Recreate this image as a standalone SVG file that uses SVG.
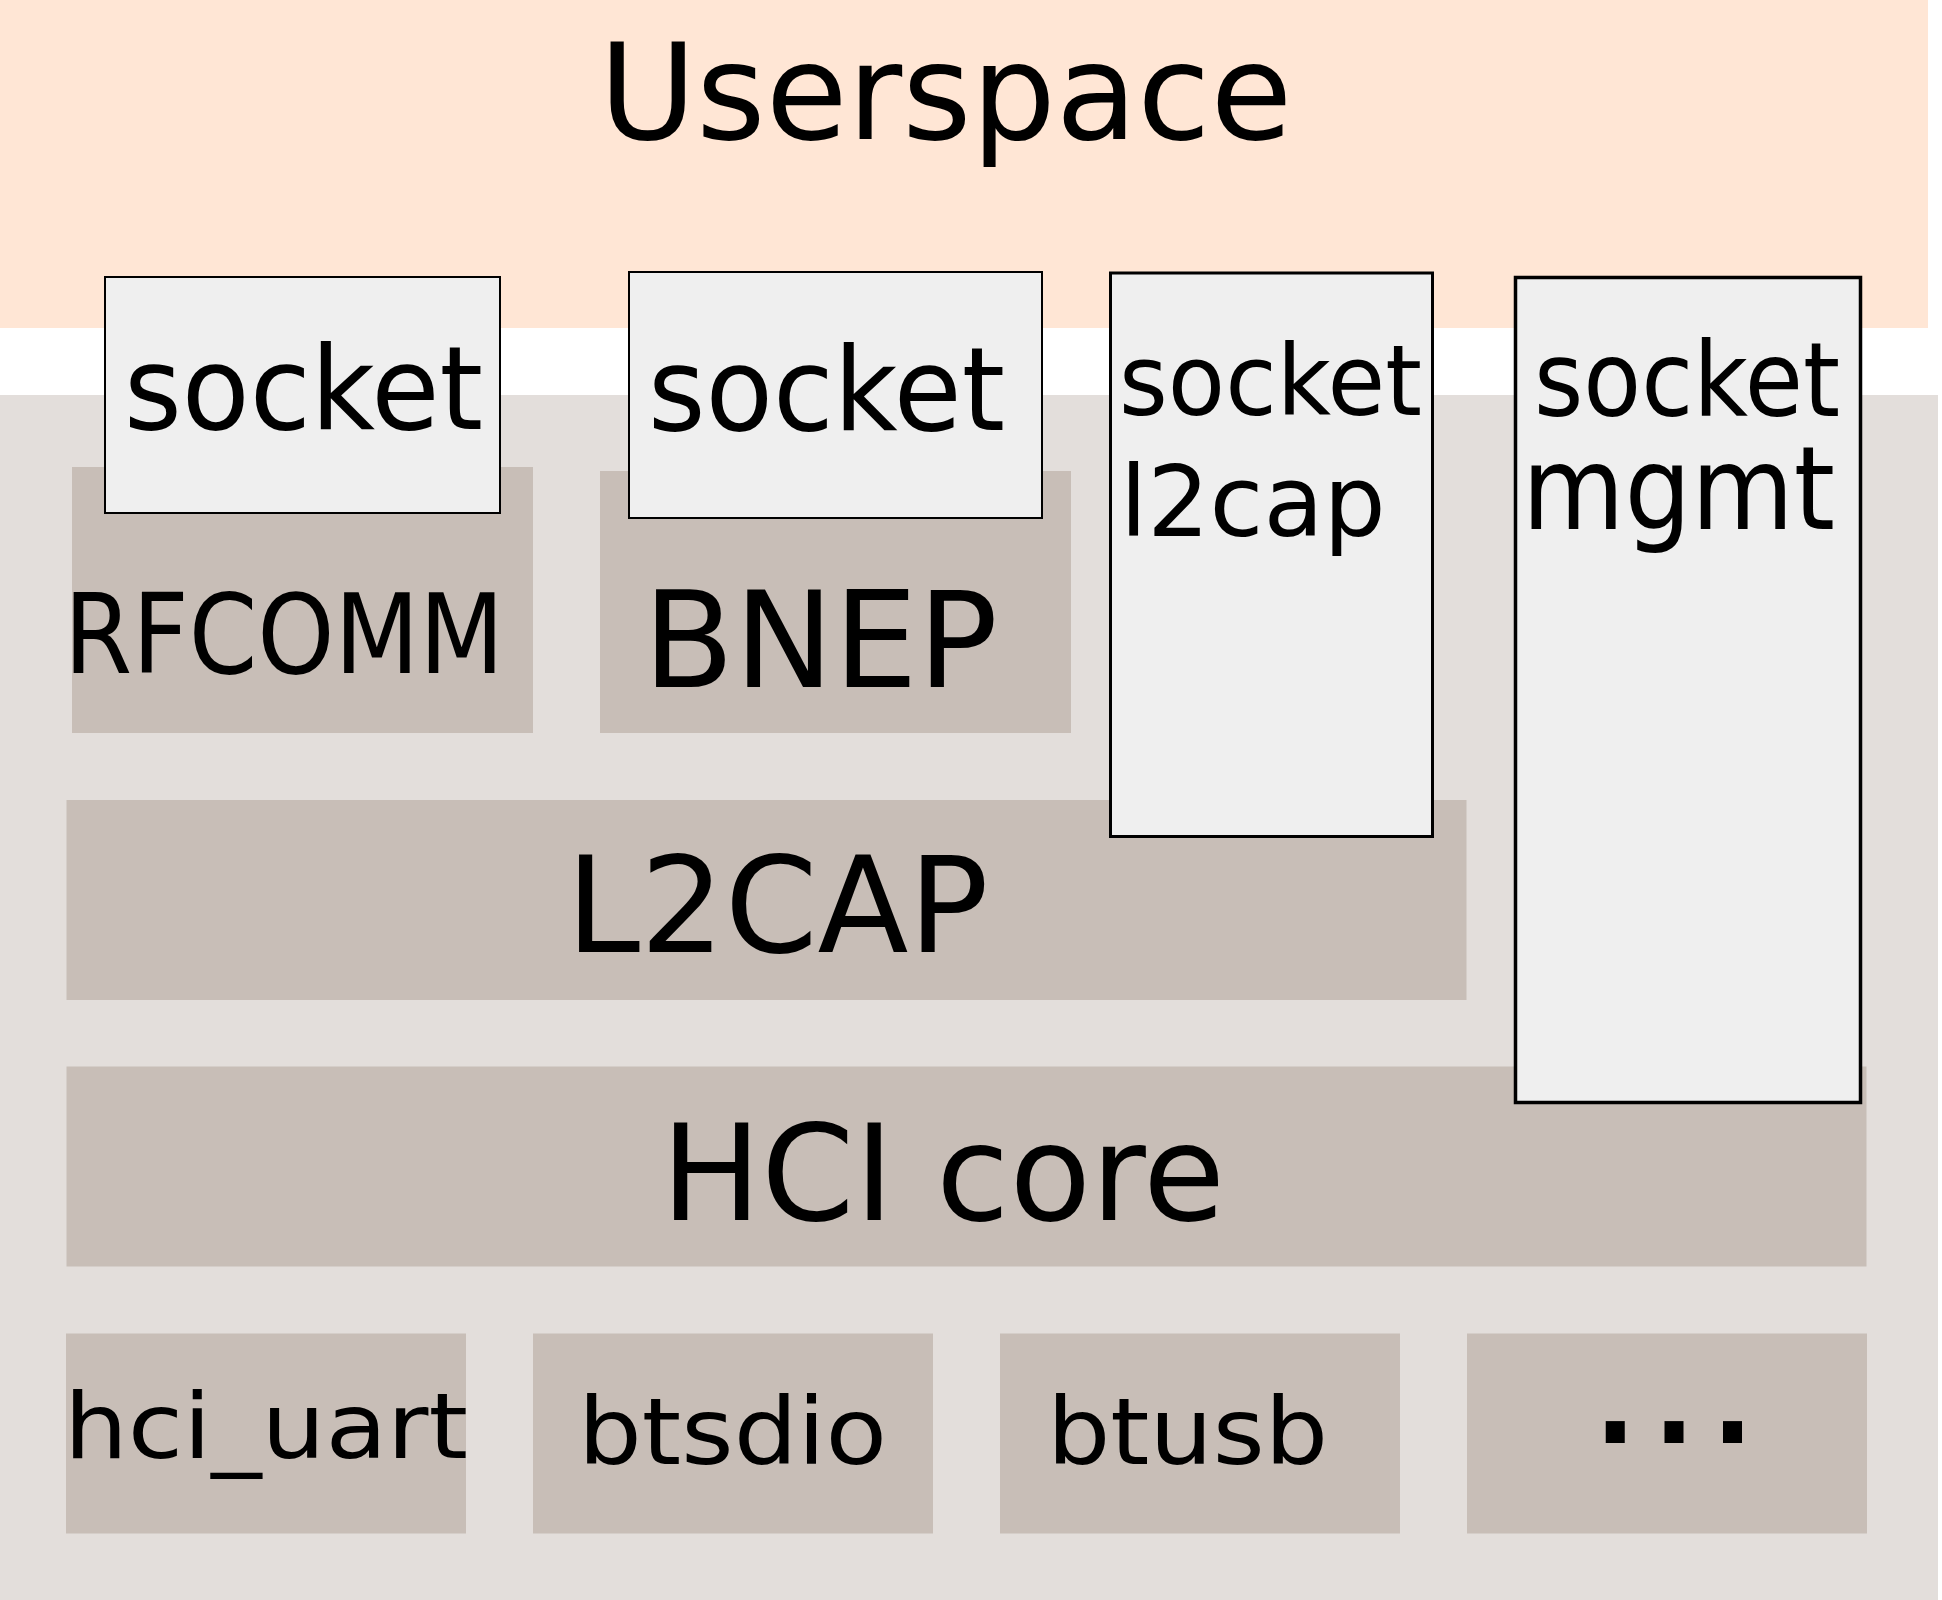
<svg xmlns="http://www.w3.org/2000/svg" width="1942" height="1600" viewBox="0 0 1942 1600">
<style>
text { font-family: "DejaVu Sans", "Liberation Sans", sans-serif; fill: #000; }
.layer { fill: #c8beb7; }
.sock { fill: #efefef; stroke: #000; }
</style>
<rect width="1942" height="1600" fill="#ffffff"/>
<g id="userspace">
  <rect x="0" y="0" width="1928" height="328" fill="#ffe6d5"/>
  <text x="599" y="139" font-size="133">Userspace</text>
</g>
<g id="kernel">
  <rect x="0" y="395" width="1938" height="1205" fill="#e3dedb"/>
</g>
<g id="rfcomm">
  <rect class="layer" x="72" y="467" width="461" height="266"/>
  <text x="64" y="673" font-size="111" textLength="440" lengthAdjust="spacingAndGlyphs">RFCOMM</text>
</g>
<g id="bnep">
  <rect class="layer" x="600" y="471" width="471" height="262"/>
  <text x="643" y="687" font-size="133">BNEP</text>
</g>
<g id="l2cap">
  <rect class="layer" x="66.5" y="800" width="1400" height="200"/>
  <text x="566" y="952" font-size="133">L2CAP</text>
</g>
<g id="hci-core">
  <rect class="layer" x="66.5" y="1066.5" width="1800" height="200"/>
  <text x="661" y="1220" font-size="133" textLength="564" lengthAdjust="spacingAndGlyphs">HCI core</text>
</g>
<g id="hci-uart">
  <rect class="layer" x="66" y="1333.5" width="400" height="200"/>
  <text x="64" y="1458" font-size="90" textLength="404" lengthAdjust="spacingAndGlyphs">hci_uart</text>
</g>
<g id="btsdio">
  <rect class="layer" x="533" y="1333.5" width="400" height="200"/>
  <text x="578" y="1464" font-size="92" textLength="309" lengthAdjust="spacingAndGlyphs">btsdio</text>
</g>
<g id="btusb">
  <rect class="layer" x="1000" y="1333.5" width="400" height="200"/>
  <text x="1047" y="1463.5" font-size="92" textLength="281" lengthAdjust="spacingAndGlyphs">btusb</text>
</g>
<g id="more">
  <rect class="layer" x="1467" y="1333.5" width="400" height="200"/>
  <text x="1586" y="1443" font-size="176" textLength="176" lengthAdjust="spacingAndGlyphs">...</text>
</g>
<g id="socket-rfcomm">
  <rect class="sock" x="105" y="277" width="395" height="236" stroke-width="2"/>
  <text x="124" y="429" font-size="115" textLength="359" lengthAdjust="spacingAndGlyphs">socket</text>
</g>
<g id="socket-bnep">
  <rect class="sock" x="629" y="272" width="413" height="246" stroke-width="2"/>
  <text x="648" y="430" font-size="115" textLength="357" lengthAdjust="spacingAndGlyphs">socket</text>
</g>
<g id="socket-l2cap">
  <rect class="sock" x="1110.5" y="273" width="322" height="563.5" stroke-width="3"/>
  <text x="1119" y="415" font-size="98" textLength="303" lengthAdjust="spacingAndGlyphs">socket</text>
  <text x="1120" y="536" font-size="98">l2cap</text>
</g>
<g id="socket-mgmt">
  <rect class="sock" x="1515.5" y="277.5" width="345" height="825" stroke-width="3.5"/>
  <text x="1534" y="416" font-size="103" textLength="306" lengthAdjust="spacingAndGlyphs">socket</text>
  <text x="1522" y="529" font-size="115" textLength="313" lengthAdjust="spacingAndGlyphs">mgmt</text>
</g>
<g id="connectors"/>
</svg>
